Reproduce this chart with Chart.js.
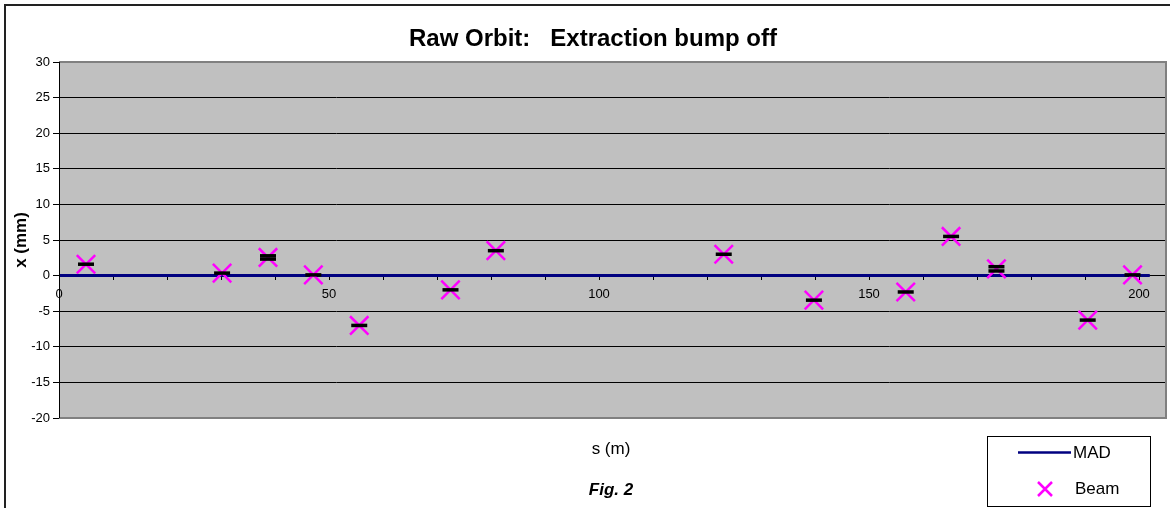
<!DOCTYPE html>
<html>
<head>
<meta charset="utf-8">
<script src="https://cdn.jsdelivr.net/npm/chart.js@4.4.1/dist/chart.umd.min.js"></script>
<style>
  body { margin: 0; background: #fff; }
  #wrap { width: 1170px; height: 508px; }
</style>
</head>
<body>
<div id="wrap"><canvas id="orbit" width="1170" height="508"></canvas></div>
<script>
// BPM positions along the ring (m) and raw beam orbit (mm)
const sPos = [5.0, 30.2, 38.7, 47.1, 55.6, 72.5, 80.9, 123.1, 139.8, 156.8, 165.2, 173.6, 190.5, 198.8];
const beamX = [1.6, 0.35, 2.55, 0.1, -7.0, -2.0, 3.5, 3.0, -3.45, -2.3, 5.5, 0.95, -6.25, 0.1];
// half-height of the error bar at each BPM (mm)
const beamErr = [0, 0, 0.23, 0, 0, 0, 0, 0, 0, 0, 0, 0.3, 0, 0];
// MAD design orbit
const madS = [0, 202];
const madX = [0, 0];

const yTicks = [-20, -15, -10, -5, 0, 5, 10, 15, 20, 25, 30];
const xLabels = [0, 50, 100, 150, 200];

const FONT = '"Liberation Sans", Arial, sans-serif';

const beamPts = sPos.map((s, i) => ({ x: s, y: beamX[i] }));
const capPts = [];
sPos.forEach((s, i) => {
	capPts.push({ x: s, y: beamX[i] + beamErr[i] });
	if (beamErr[i] > 0) capPts.push({ x: s, y: beamX[i] - beamErr[i] });
});
const madPts = madS.map((s, i) => ({ x: s, y: madX[i] }));

const decor = {
	id: 'decor',
	beforeDraw(chart) {
		const { ctx, chartArea: a } = chart;
		ctx.save();
		ctx.fillStyle = '#ffffff';
		ctx.fillRect(0, 0, chart.width, chart.height);
		ctx.fillStyle = '#c0c0c0';
		ctx.fillRect(a.left, a.top, a.right - a.left, a.bottom - a.top);
		ctx.restore();
	},
	afterDraw(chart) {
		const { ctx, chartArea: a } = chart;
		ctx.save();
		// plot area frame (grey)
		ctx.strokeStyle = '#808080';
		ctx.lineWidth = 2;
		ctx.beginPath();
		ctx.moveTo(a.left, a.top);
		ctx.lineTo(a.right, a.top);
		ctx.lineTo(a.right, a.bottom);
		ctx.lineTo(a.left, a.bottom);
		ctx.stroke();
		// left axis line on top
		ctx.strokeStyle = '#000';
		ctx.lineWidth = 1;
		ctx.beginPath();
		ctx.moveTo(a.left + 0.5, a.top);
		ctx.lineTo(a.left + 0.5, a.bottom);
		ctx.stroke();

		// outer chart border
		ctx.strokeStyle = '#222';
		ctx.lineWidth = 2;
		ctx.beginPath();
		ctx.moveTo(5, chart.height);
		ctx.lineTo(5, 5);
		ctx.lineTo(chart.width, 5);
		ctx.stroke();

		// title
		ctx.fillStyle = '#000';
		ctx.textAlign = 'center';
		ctx.textBaseline = 'alphabetic';
		ctx.font = 'bold 24px ' + FONT;
		ctx.fillText('Raw Orbit:   Extraction bump off', 593, 46);

		// x axis title and caption
		ctx.textBaseline = 'middle';
		ctx.font = '17px ' + FONT;
		ctx.fillText('s (m)', 611, 449);
		ctx.font = 'italic bold 17px ' + FONT;
		ctx.fillText('Fig. 2', 611, 490);

		// legend
		const mad = chart.data.datasets[2];
		const beam = chart.data.datasets[1];
		ctx.fillStyle = '#fff';
		ctx.fillRect(987, 436, 163, 70);
		ctx.strokeStyle = '#000';
		ctx.lineWidth = 1;
		ctx.strokeRect(987.5, 436.5, 163, 70);
		ctx.strokeStyle = mad.borderColor;
		ctx.lineWidth = 2.5;
		ctx.beginPath();
		ctx.moveTo(1018, 452.5);
		ctx.lineTo(1071, 452.5);
		ctx.stroke();
		ctx.strokeStyle = beam.borderColor;
		ctx.lineWidth = 2.5;
		ctx.beginPath();
		ctx.moveTo(1038, 482);
		ctx.lineTo(1052, 496);
		ctx.moveTo(1052, 482);
		ctx.lineTo(1038, 496);
		ctx.stroke();
		ctx.fillStyle = '#000';
		ctx.textAlign = 'left';
		ctx.font = '17px ' + FONT;
		ctx.fillText(mad.label, 1073, 453);
		ctx.fillText(beam.label, 1075, 489);
		ctx.restore();
	},
};

new Chart(document.getElementById('orbit'), {
	type: 'scatter',
	data: {
		datasets: [
			{
				label: 'caps',
				data: capPts,
				pointStyle: 'line',
				pointRadius: 8,
				borderColor: '#000',
				borderWidth: 3.5,
				order: 0,
			},
			{
				label: 'Beam',
				data: beamPts,
				pointStyle: 'crossRot',
				pointRadius: 13,
				borderColor: '#ff00ff',
				backgroundColor: '#ff00ff',
				borderWidth: 2.5,
				order: 1,
			},
			{
				label: 'MAD',
				data: madPts,
				showLine: true,
				pointRadius: 0,
				borderColor: '#000080',
				borderWidth: 3,
				order: 2,
			},
		],
	},
	options: {
		responsive: false,
		animation: false,
		devicePixelRatio: 1,
		layout: {
			autoPadding: false,
			padding: { top: 62, right: 4, bottom: 90, left: 0 },
		},
		plugins: {
			legend: { display: false },
			tooltip: { enabled: false },
		},
		scales: {
			x: {
				type: 'linear',
				position: { y: 0 },
				min: 0,
				max: 205,
				afterFit: (scale) => {
					scale.height = 0;
					scale.paddingLeft = 0;
					scale.paddingRight = 0;
				},
				ticks: {
					stepSize: 10,
					autoSkip: false,
					includeBounds: false,
					maxRotation: 0,
					padding: 7,
					color: '#000',
					font: { family: FONT, size: 13 },
					callback: (v) => (xLabels.includes(v) ? String(v) : ''),
				},
				grid: {
					drawOnChartArea: false,
					drawTicks: true,
					tickLength: 4,
					tickColor: '#000',
				},
				border: { color: '#000', width: 1 },
			},
			y: {
				type: 'linear',
				min: yTicks[0],
				max: yTicks[yTicks.length - 1],
				afterFit: (scale) => { scale.width = 59; },
				ticks: {
					stepSize: 5,
					padding: 3,
					color: '#000',
					font: { family: FONT, size: 13 },
				},
				grid: {
					color: '#000',
					lineWidth: 1,
					tickLength: 6,
					tickColor: '#000',
				},
				border: { color: '#000', width: 1 },
				title: {
					display: true,
					text: 'x (mm)',
					color: '#000',
					padding: { top: 11, bottom: 0 },
					font: { family: FONT, size: 17, weight: 'bold' },
				},
			},
		},
	},
	plugins: [decor],
});
</script>
</body>
</html>
